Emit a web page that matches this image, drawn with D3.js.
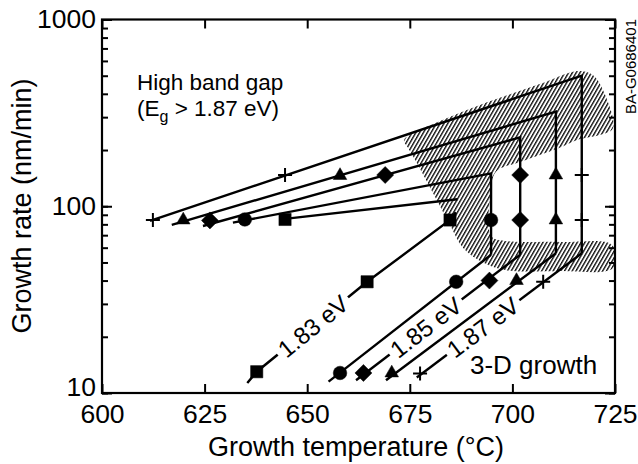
<!DOCTYPE html>
<html>
<head>
<meta charset="utf-8">
<script src="https://cdn.jsdelivr.net/npm/d3@7"></script>
<style>
body { margin: 0; background: #fff; }
svg { display: block; font-family: "Liberation Sans", Arial, Helvetica, sans-serif; }
</style>
</head>
<body>
<script>
/* growth rate vs growth temperature, log y */
var width = 638;
var height = 464;

var xTicks = [600, 625, 650, 675, 700, 725];
var yLabelTicks = [10, 100, 1000];

var bandGaps = ["1.83 eV", "1.84 eV", "1.85 eV", "1.86 eV", "1.87 eV"];
var symbols = ["square", "circle", "diamond", "triangle", "cross"];

// drawn guide lines, [temperature, rate] vertices per series
var upperLines = [
  [[643.5, 85], [686.6, 109]],
  [[631.9, 81.7], [694.8, 150], [694.8, 55]],
  [[624.6, 78.4], [701.9, 234], [701.9, 55]],
  [[617.0, 79.4], [710.6, 321], [710.6, 56]],
  [[611.7, 83.4], [716.9, 500], [716.9, 56]]
];
var lowerLines = [
  [[686.2, 93], [684.8, 84.4], [664.6, 39.4], [637.7, 13.0], [635.4, 11.3]],
  [[694.8, 55], [655.2, 11.5]],
  [[701.9, 55], [661.9, 11.7]],
  [[710.6, 56], [669.2, 11.7]],
  [[716.9, 56], [676.7, 12.1]]
];

// measured points
var markerTemps = [
  [644.6, 684.8, 664.6, 637.7],
  [634.8, 694.8, 686.3, 658.0],
  [626.3, 669.0, 701.9, 701.9, 694.4, 663.7],
  [619.8, 658.0, 710.6, 710.6, 701.0, 670.6],
  [612.4, 644.6, 716.9, 716.9, 707.5, 677.5]
];
var markerRates = [
  [85, 84.4, 39.4, 13.0],
  [85, 84.4, 39.4, 12.8],
  [84, 147, 147, 84.4, 40, 12.8],
  [84.4, 146, 147, 84.4, 40, 12.8],
  [84.4, 147, 147, 84.4, 39.4, 12.7]
];

// in-line labels on the lower branches
var labelSeries = [0, 2, 4];
var labelTemps = [651.4, 678.9, 692.8];
var labelRates = [22.8, 22.5, 22.5];

// hatched transition zone outline
var hatchTemps = [673.6, 682.4, 692.1, 706.7, 716.0, 719.6, 722.3, 724.5, 721.3, 716.5, 710.9, 702.1,
  696.0, 694.8, 694.8, 698.2, 711.6, 724.3, 724.5, 711.6, 698.2, 692.6, 688.0, 684.8, 680.9, 677.0, 674.6];
var hatchRates = [226, 286, 349, 451, 530, 505, 409, 262, 241, 229, 203, 173,
  153, 122, 69.3, 65.2, 64.4, 62.0, 46.7, 45.0, 45.6, 50.3, 59.8, 79.4, 115, 166, 205];

var x = d3.scaleLinear().domain([600, 725]).range([102, 615]);
var y = d3.scaleLog().domain([10, 1000]).range([393, 19.5]);

var svg = d3.select("body").append("svg").attr("width", width).attr("height", height);

var defs = svg.append("defs");
var pat = defs.append("pattern")
    .attr("id", "hatch")
    .attr("patternUnits", "userSpaceOnUse")
    .attr("width", 3.3).attr("height", 3.3)
    .attr("patternTransform", "rotate(30)");
pat.append("line")
    .attr("x1", 0.7).attr("y1", 0).attr("x2", 0.7).attr("y2", 3.3)
    .attr("stroke", "#000").attr("stroke-width", 1.3);

var hatchPts = hatchTemps.map(function(t, i){ return [t, hatchRates[i]]; });
var area = d3.line()
    .x(function(d){ return x(d[0]); })
    .y(function(d){ return y(d[1]); })
    .curve(d3.curveCatmullRomClosed.alpha(0.5));

svg.append("path")
    .attr("d", area(hatchPts))
    .attr("fill", "url(#hatch)")
    .attr("stroke", "none");

// axes, ticks inward on all four sides
function styleAxis(g){
  g.select(".domain").remove();
  g.selectAll(".tick line").attr("stroke", "#000").attr("stroke-width", 2);
  g.attr("font-size", 26.5).attr("font-family", null);
  g.selectAll("text").attr("fill", "#000");
}

svg.append("g")
    .attr("transform", "translate(0,393)")
    .call(d3.axisBottom(x).tickValues(xTicks).tickSize(-9).tickPadding(11).tickFormat(d3.format("d")))
    .call(styleAxis);

svg.append("g")
    .attr("transform", "translate(0,19.5)")
    .call(d3.axisTop(x).tickValues(xTicks).tickSize(-9).tickFormat(""))
    .call(styleAxis);

svg.append("g")
    .attr("transform", "translate(102,0)")
    .call(d3.axisLeft(y).tickValues(y.ticks()).tickSize(-6).tickFormat(""))
    .call(styleAxis);

var yAxis = svg.append("g")
    .attr("transform", "translate(102,0)")
    .call(d3.axisLeft(y).tickValues(yLabelTicks).tickSize(-10).tickPadding(6).tickFormat(d3.format("d")))
    .call(styleAxis);
yAxis.selectAll(".tick text").filter(function(d){ return d === 10; }).attr("dy", "0.1em");

svg.append("g")
    .attr("transform", "translate(615,0)")
    .call(d3.axisRight(y).tickValues(y.ticks()).tickSize(-6).tickFormat(""))
    .call(styleAxis);

svg.append("g")
    .attr("transform", "translate(615,0)")
    .call(d3.axisRight(y).tickValues(yLabelTicks).tickSize(-10).tickFormat(""))
    .call(styleAxis);

svg.append("rect")
    .attr("x", x(600)).attr("y", y(1000))
    .attr("width", x(725) - x(600)).attr("height", y(10) - y(1000))
    .attr("fill", "none").attr("stroke", "#000").attr("stroke-width", 2.2);

// guide lines
var line = d3.line()
    .x(function(d){ return x(d[0]); })
    .y(function(d){ return y(d[1]); });

var lines = svg.append("g")
    .attr("fill", "none").attr("stroke", "#000").attr("stroke-width", 2.4)
    .attr("stroke-linejoin", "miter");
upperLines.concat(lowerLines).forEach(function(pts){
  lines.append("path").attr("d", line(pts));
});

// in-line labels with a white gap under them
labelSeries.forEach(function(s, i){
  var pts = lowerLines[s];
  var a = pts[pts.length - 1], b = pts[0];
  var ang = Math.atan2(y(b[1]) - y(a[1]), x(b[0]) - x(a[0])) * 180 / Math.PI;
  var g = svg.append("g")
      .attr("transform", "translate(" + x(labelTemps[i]) + "," + y(labelRates[i]) + ") rotate(" + ang + ")");
  var bg = g.append("rect").attr("fill", "#fff");
  var t = g.append("text")
      .attr("text-anchor", "middle")
      .attr("dy", "0.36em")
      .attr("font-size", 24)
      .text(bandGaps[s]);
  var bb = t.node().getBBox();
  bg.attr("x", bb.x - 4).attr("y", -7).attr("width", bb.width + 8).attr("height", 14);
});

// markers
function symbolPath(name){
  if (name == "square") return d3.symbol(d3.symbolSquare, 150)();
  if (name == "circle") return d3.symbol(d3.symbolCircle, 145)();
  if (name == "diamond") return "M0,-8.5L8.5,0L0,8.5L-8.5,0Z";
  if (name == "triangle") return d3.symbol(d3.symbolTriangle, 80)();
  return "M-7,0H7M0,-7V7";
}

markerTemps.forEach(function(temps, i){
  var sym = symbols[i];
  svg.append("g").selectAll("path")
      .data(temps.map(function(t, j){ return [t, markerRates[i][j]]; }))
      .enter()
      .append("path")
      .attr("transform", function(d){ return "translate(" + x(d[0]) + "," + y(d[1]) + ")"; })
      .attr("d", symbolPath(sym))
      .attr("fill", sym == "cross" ? "none" : "#000")
      .attr("stroke", "#000")
      .attr("stroke-width", sym == "cross" ? 2 : 0.5);
});

// texts
var note = svg.append("g").attr("font-size", 22.5);
note.append("text").attr("x", 137).attr("y", 89.5).text("High band gap");
var l2 = note.append("text").attr("x", 137).attr("y", 116);
l2.append("tspan").text("(E");
l2.append("tspan").attr("font-size", 16).attr("dy", 6).text("g");
l2.append("tspan").attr("dy", -6).text(" > 1.87 eV)");

svg.append("text")
    .attr("x", 470).attr("y", 374)
    .attr("font-size", 26)
    .text("3-D growth");

svg.append("text")
    .attr("x", 356).attr("y", 456)
    .attr("text-anchor", "middle")
    .attr("font-size", 27)
    .text("Growth temperature (\u00B0C)");

svg.append("text")
    .attr("transform", "translate(31,206) rotate(-90)")
    .attr("text-anchor", "middle")
    .attr("font-size", 27)
    .text("Growth rate (nm/min)");

svg.append("text")
    .attr("transform", "translate(636,19) rotate(-90)")
    .attr("text-anchor", "end")
    .attr("font-size", 15)
    .text("BA-G0686401");
</script>
</body>
</html>
